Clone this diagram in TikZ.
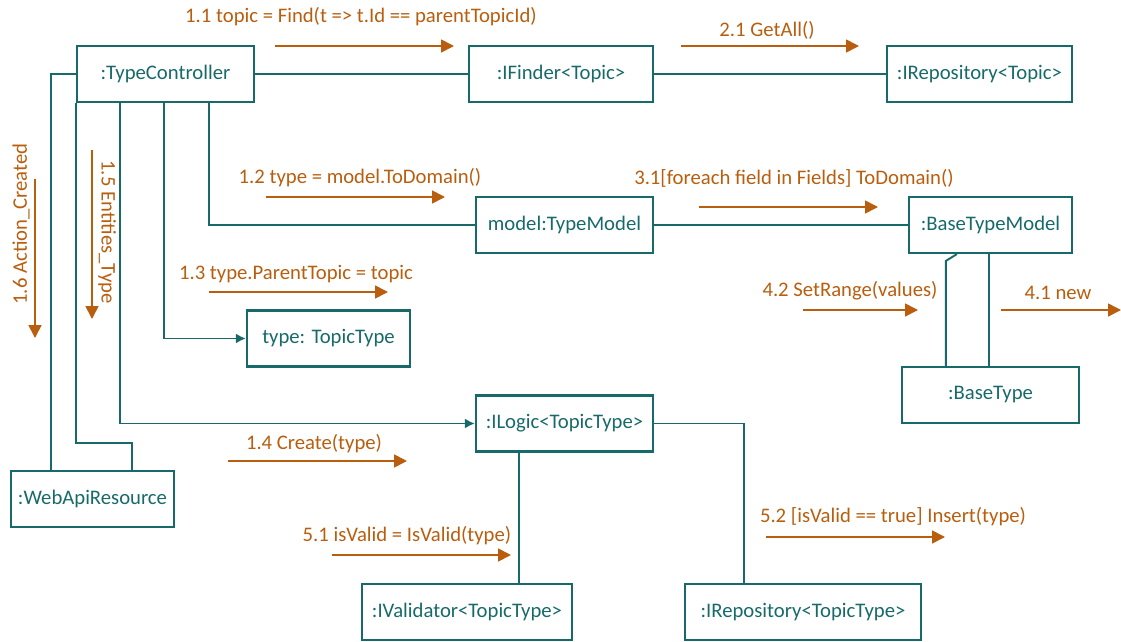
\documentclass[tikz,border=0pt]{standalone}
\usepackage{fontspec}
\setmainfont{Carlito}
\usetikzlibrary{arrows.meta}
\definecolor{teal}{RGB}{24,106,106}
\definecolor{brown}{RGB}{184,94,14}
\begin{document}
\begin{tikzpicture}[x=1pt,y=-1pt,
    obj/.style={draw=teal, line width=2.2pt, text=teal, minimum height=56pt, inner sep=0pt, font=\fontsize{20.7}{23}\selectfont},
    link/.style={draw=teal, line width=1.9pt},
    call/.style={link, -{Latex[length=10pt,width=10pt]}},
    msg/.style={draw=brown, line width=1.7pt, -{Triangle[length=13pt,width=13pt]}},
    msgtext/.style={text=brown, inner sep=0pt, font=\fontsize{20.7}{23}\selectfont}]
            \useasboundingbox (0,0) rectangle (1121,642);
            % objects
            \node[obj, minimum width=177pt] (tc) at (165.5,74) {:TypeController};
            \node[obj, minimum width=184pt] (finder) at (561,74) {:IFinder<Topic>};
            \node[obj, minimum width=185pt] (repo) at (979.5,74) {:IRepository<Topic>};
            \node[obj, minimum width=177pt] (model) at (564.5,225) {model:TypeModel};
            \node[obj, minimum width=163pt] (btm) at (990.5,225) {:BaseTypeModel};
            \node[obj, minimum width=163pt] (tt) at (328.5,338.5) {type: TopicType};
            \node[obj, minimum width=177pt] (bt) at (990.5,395) {:BaseType};
            \node[obj, minimum width=177pt] (logic) at (564.5,423.5) {:ILogic<TopicType>};
            \node[obj, minimum width=163pt] (web) at (92.5,499) {:WebApiResource};
            \node[obj, minimum width=210pt] (val) at (467,612) {:IValidator<TopicType>};
            \node[obj, minimum width=236pt] (repotype) at (803,612) {:IRepository<TopicType>};
            % links
            \draw[link] (tc) -- (finder);
            \draw[link] (finder) -- (repo);
            \draw[link] (model) -- (btm);
            \draw[link] ([xshift=133pt]tc.south west) |- (model.west);
            \draw[call] ([xshift=88pt]tc.south west) |- (tt.west);
            \draw[call] ([xshift=44pt]tc.south west) |- (logic.west);
            \draw[link] (tc.west) -| ([xshift=41pt]web.north west);
            \draw[link] (tc.south west) -- ++(0,340) -| ([xshift=122pt]web.north west);
            \draw[link] ([xshift=44pt]logic.south west) -- ([xshift=44pt]logic.south west |- val.north);
            \draw[link] (logic.east) -| ([xshift=60pt]repotype.north west);
            \draw[link] ([xshift=45pt]bt.north west) -- ++(0,-105) -- ([xshift=49pt]btm.south west);
            \draw[link] ([xshift=88pt]bt.north west) -- ([xshift=88pt]bt.north west |- btm.south);
            % messages
            \draw[msg] (275,46) -- (454,46);
            \node[msgtext] (m11) at (361,17) {1.1 topic = Find(t => t.Id == parentTopicId)};
            \draw[msg] (681,46) -- (859,46);
            \node[msgtext] (m21) at (767,30) {2.1 GetAll()};
            \draw[msg] (266,197) -- (445,197);
            \node[msgtext] (m12) at (360,178) {1.2 type = model.ToDomain()};
            \draw[msg] (699,207) -- (878,207);
            \node[msgtext] (m31) at (794,178) {3.1[foreach field in Fields] ToDomain()};
            \draw[msg] (209,292) -- (388,292);
            \node[msgtext] (m13) at (296,274) {1.3 type.ParentTopic = topic};
            \draw[msg] (803,310) -- (918,310);
            \node[msgtext] (m42) at (850,291) {4.2 SetRange(values)};
            \draw[msg] (1001,310) -- (1121,310);
            \node[msgtext] (m41) at (1058,293) {4.1 new};
            \draw[msg] (228,461) -- (407,461);
            \node[msgtext] (m14) at (314,444) {1.4 Create(type)};
            \draw[msg] (332,555) -- (511,555);
            \node[msgtext] (m51) at (407,536) {5.1 isValid = IsValid(type)};
            \draw[msg] (766,537) -- (945,537);
            \node[msgtext] (m52) at (893,517) {5.2 [isValid == true] Insert(type)};
            \draw[msg] (35,179) -- (35,338);
            \node[msgtext, rotate=90] (m16) at (21,224) {1.6 Action\_Created};
            \draw[msg] (92,150) -- (92,319);
            \node[msgtext, rotate=-90] (m15) at (107,232) {1.5 Entities\_Type};
        \end{tikzpicture}
\end{document}
